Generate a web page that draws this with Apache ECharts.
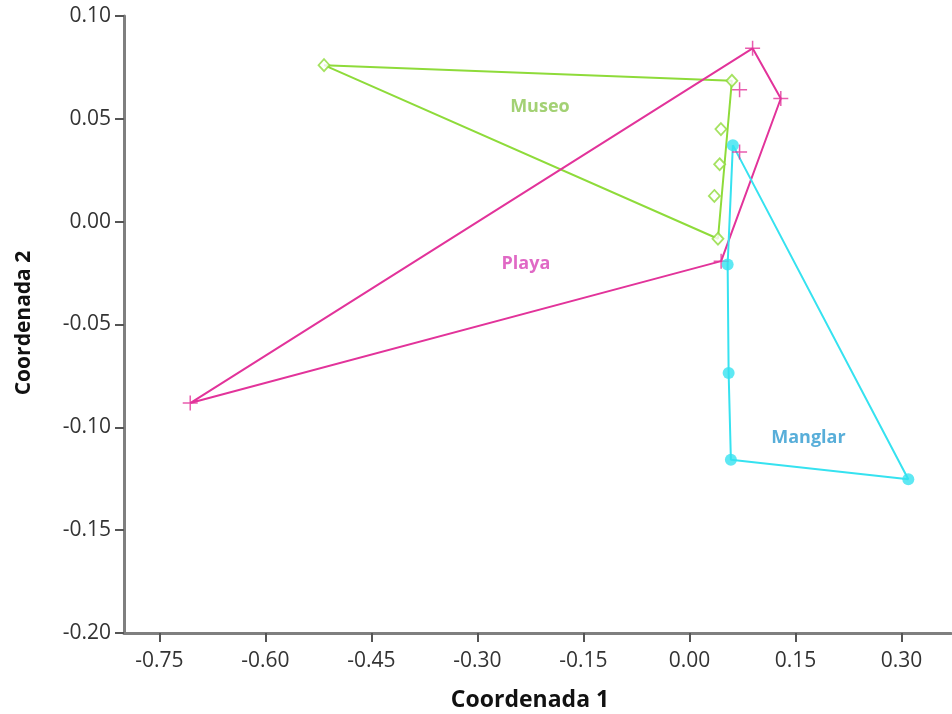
<!DOCTYPE html>
<html>
<head>
<meta charset="utf-8">
<script src="https://cdn.jsdelivr.net/npm/echarts@6/dist/echarts.min.js"></script>
<style>html,body{margin:0;padding:0;background:#fff}#c{width:952px;height:714px}</style>
</head>
<body>
<div id="c"></div>
<script>
// Data
const museo = [[-0.517, 0.0761], [0.060, 0.0685], [0.0445, 0.0450], [0.0427, 0.0279], [0.0352, 0.0125], [0.0403, -0.0083]];
const museoHull = [0, 1, 5, 0];
const playa = [[0.0893, 0.0843], [0.0709, 0.0641], [0.1292, 0.0599], [0.0709, 0.0339], [0.0448, -0.0192], [-0.7063, -0.0882]];
const playaHull = [5, 0, 2, 4, 5];
const manglar = [[0.0614, 0.0372], [0.0540, -0.0208], [0.0554, -0.0736], [0.0586, -0.1158], [0.3096, -0.1252]];
const manglarHull = [0, 1, 2, 3, 4, 0];
const groupNames = ['Museo', 'Playa', 'Manglar'];
const groupLabelPos = [[-0.2116, 0.0557], [-0.2314, -0.0204], [0.1683, -0.1051]];
const xTicks = [-0.75, -0.60, -0.45, -0.30, -0.15, 0.00, 0.15, 0.30];
const yTicks = [-0.20, -0.15, -0.10, -0.05, 0.00, 0.05, 0.10];

const cGreen = '#8edb3a', cPink = '#e2339a', cCyan = '#36e2f0';
const labelColors = ['#8cc651', '#d843b6', '#2e9ad0'];
const plusPath = 'path://M-0.1,-1 L0.1,-1 L0.1,-0.1 L1,-0.1 L1,0.1 L0.1,0.1 L0.1,1 L-0.1,1 L-0.1,0.1 L-1,0.1 L-1,-0.1 L-0.1,-0.1 Z';

function hull(points, idx) { return idx.map(i => points[i]); }

const chart = echarts.init(document.getElementById('c'));
const font = '"Open Sans", sans-serif';
chart.setOption({
  animation: false,
  grid: { left: 124, right: 1, top: 16, bottom: 81 },
  xAxis: {
    type: 'value', min: -0.8, max: 0.37,
    splitLine: { show: false },
    axisLine: { show: true, onZero: false, lineStyle: { color: '#7f7f7f', width: 3 } },
    axisTick: { show: true, length: 9, lineStyle: { color: '#555', width: 2 }, customValues: xTicks },
    axisLabel: { color: '#333', fontSize: 21, fontFamily: font, margin: 18, customValues: xTicks,
      formatter: v => v.toFixed(2) }
  },
  yAxis: {
    type: 'value', min: -0.2, max: 0.10, interval: 0.05,
    splitLine: { show: false },
    axisLine: { show: true, onZero: false, lineStyle: { color: '#7f7f7f', width: 3 } },
    axisTick: { show: true, length: 9, lineStyle: { color: '#555', width: 2 } },
    axisLabel: { color: '#333', fontSize: 21, fontFamily: font, margin: 13,
      formatter: v => v.toFixed(2) }
  },
  graphic: [
    { type: 'text', x: 530, y: 700, style: { text: 'Coordenada 1', font: 'bold 23px ' + font, fill: '#111', align: 'center', verticalAlign: 'middle' } },
    { type: 'text', x: 24, y: 323, rotation: Math.PI / 2, style: { text: 'Coordenada 2', font: 'bold 21px ' + font, fill: '#111', align: 'center', verticalAlign: 'middle' } }
  ],
  series: [
    { type: 'line', data: hull(museo, museoHull), symbol: 'none', lineStyle: { color: cGreen, width: 2 }, z: 2 },
    { type: 'line', data: hull(playa, playaHull), symbol: 'none', lineStyle: { color: cPink, width: 2 }, z: 2 },
    { type: 'line', data: hull(manglar, manglarHull), symbol: 'none', lineStyle: { color: cCyan, width: 2 }, z: 2 },
    { type: 'scatter', data: museo, symbol: 'diamond', symbolSize: [11, 12],
      itemStyle: { color: '#ffffff', borderColor: cGreen, borderWidth: 1.8 }, z: 3 },
    { type: 'scatter', data: playa, symbol: plusPath, symbolSize: 15,
      itemStyle: { color: cPink }, z: 3 },
    { type: 'scatter', data: manglar, symbol: 'circle', symbolSize: 12,
      itemStyle: { color: cCyan }, z: 3 },
    { type: 'scatter', symbolSize: 0, z: 4,
      data: groupNames.map((n, i) => ({ value: groupLabelPos[i], name: n,
        label: { show: true, position: 'inside', formatter: n, color: labelColors[i],
          fontSize: 18, fontWeight: 'bold', fontFamily: font } })) }
  ]
});
</script>
</body>
</html>
